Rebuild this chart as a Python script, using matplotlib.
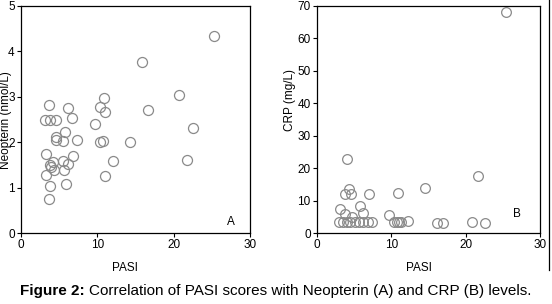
import matplotlib
matplotlib.use("Agg")
import matplotlib.pyplot as plt
from matplotlib.lines import Line2D

plt.rcParams['font.family'] = ['Liberation Sans', 'DejaVu Sans']

# Panel A: PASI vs Neopterin
pasi_a = [25.3, 15.9, 20.7, 16.6, 22.5, 14.3, 21.7,
          10.87, 3.71, 6.1, 10.4, 10.96, 3.1, 3.8, 4.6, 6.7, 9.65, 5.76,
          4.6, 4.6, 5.55, 7.3, 10.35, 10.7, 3.23, 6.86, 4.15, 3.8, 3.98,
          5.55, 6.2, 4.32, 5.63, 12.1, 3.28, 11.05, 5.9, 3.8, 3.71]
neo_a = [4.35, 3.76, 3.03, 2.72, 2.32, 2.0, 1.60,
         2.97, 2.82, 2.75, 2.78, 2.67, 2.49, 2.49, 2.48, 2.53, 2.41, 2.22,
         2.12, 2.05, 2.03, 2.05, 2.0, 2.03, 1.75, 1.70, 1.57, 1.50, 1.45,
         1.59, 1.52, 1.39, 1.39, 1.59, 1.27, 1.26, 1.07, 1.04, 0.75]

# Panel B: PASI vs CRP
pasi_b = [25.4, 4.0, 21.7, 14.5, 4.35, 3.7, 4.6, 6.96, 10.9, 5.8, 3.1,
          3.7, 6.15, 4.7, 9.65,
          3.0, 3.55, 4.0, 4.5, 5.1, 5.7, 6.2, 6.8, 7.4,
          10.4, 10.7, 11.0, 11.3, 12.2, 16.1, 16.9, 20.9, 22.6]
crp_b = [68.2, 22.7, 17.6, 14.0, 13.5, 11.9, 11.9, 12.1, 12.4, 8.3, 7.3,
         5.8, 6.1, 4.8, 5.5,
         3.3, 3.3, 3.3, 3.3, 3.3, 3.3, 3.3, 3.3, 3.3,
         3.3, 3.3, 3.3, 3.3, 3.6, 3.2, 3.2, 3.5, 3.2]

W, H = 552, 304
fig = plt.figure(figsize=(W / 100, H / 100), dpi=100)

def style(ax):
    for s in ax.spines.values():
        s.set_linewidth(0.9)
        s.set_color('black')
    ax.tick_params(direction='out', length=3, width=0.8, labelsize=8.5, pad=1.5)

axA = fig.add_axes([21 / W, 1 - 233 / H, 229 / W, 227 / H])
axA.plot(pasi_a, neo_a, 'o', ms=7.2, mfc='none', mec='#8a8a8a', mew=0.9, clip_on=False)
axA.set_xlim(0, 30)
axA.set_ylim(0, 5)
axA.set_xticks([0, 10, 20, 30])
axA.set_yticks([0, 1, 2, 3, 4, 5])
style(axA)
axA.text(27.5, 0.25, 'A', fontsize=8.5, ha='center', va='center')

axB = fig.add_axes([317 / W, 1 - 233 / H, 223 / W, 227 / H])
axB.plot(pasi_b, crp_b, 'o', ms=7.0, mfc='none', mec='#8a8a8a', mew=0.9, clip_on=False)
axB.set_xlim(0, 30)
axB.set_ylim(0, 70)
axB.set_xticks([0, 10, 20, 30])
axB.set_yticks([0, 10, 20, 30, 40, 50, 60, 70])
style(axB)
axB.text(26.9, 5.9, 'B', fontsize=8.5, ha='center', va='center')

fig.text(6 / W, 1 - 120 / H, 'Neopterin (nmol/L)', rotation=90, fontsize=8.5,
         ha='center', va='center')
fig.text(290 / W, 1 - 100 / H, 'CRP (mg/L)', rotation=90, fontsize=8.5,
         ha='center', va='center')
fig.text(125 / W, 1 - 268 / H, 'PASI', fontsize=8.5, ha='center', va='center')
fig.text(419 / W, 1 - 268 / H, 'PASI', fontsize=8.5, ha='center', va='center')

# caption
t1 = fig.text(20 / W, 1 - 291 / H, 'Figure 2:', fontsize=11, fontweight='bold',
              ha='left', va='center')
fig.canvas.draw()
bb = t1.get_window_extent()
fig.text((bb.x1 + 4) / W, 1 - 291 / H,
         'Correlation of PASI scores with Neopterin (A) and CRP (B) levels.',
         fontsize=11, ha='left', va='center')

# right frame edge
fig.add_artist(Line2D([549 / W, 549 / W], [1 - 270 / H, 1.0], color='black', lw=0.9))

fig.savefig('out.png', dpi=100)
